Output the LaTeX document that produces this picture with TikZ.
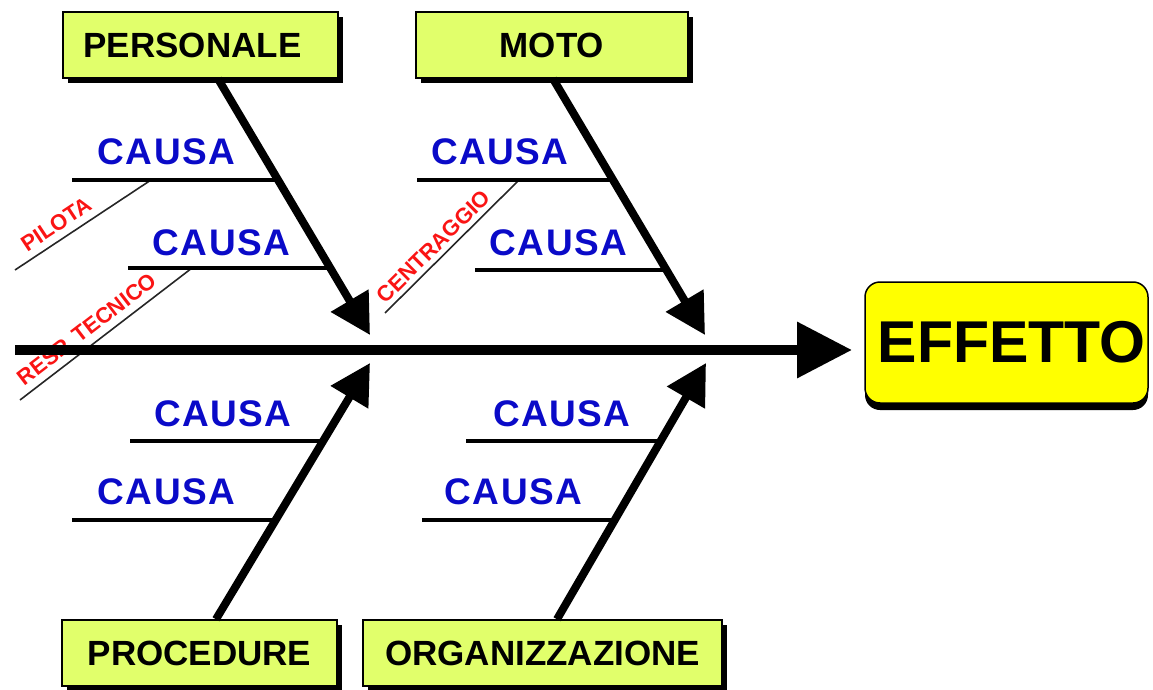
\documentclass[tikz,border=0pt]{standalone}
\usepackage{fontspec}
\setmainfont{Liberation Sans}
\usetikzlibrary{arrows.meta,shadows,calc}
\definecolor{catgreen}{RGB}{225,255,107}
\definecolor{effyellow}{RGB}{255,255,0}
\definecolor{causeblue}{RGB}{10,10,200}
\definecolor{subred}{RGB}{250,20,20}
\begin{document}
\begin{tikzpicture}[x=1pt,y=-1pt,
  catbox/.style={draw=black, line width=1.5pt, fill=catgreen, minimum height=66pt, inner sep=0pt,
    font=\bfseries\fontsize{35}{35}\selectfont,
    drop shadow={shadow xshift=4.5pt, shadow yshift=-5pt, fill=black, opacity=1}},
  effbox/.style={draw=black, line width=1.5pt, fill=effyellow, rounded corners=15pt,
    minimum width=283pt, minimum height=121pt, inner sep=0pt,
    font=\bfseries\fontsize{59}{59}\selectfont,
    drop shadow={shadow xshift=0pt, shadow yshift=-7pt, fill=black, opacity=1}},
  causa/.style={text=causeblue, inner sep=0pt,
    font=\bfseries\fontsize{37}{37}\selectfont\addfontfeature{LetterSpace=4}},
  causeline/.style={draw=black, line width=4.5pt},
  diagline/.style={draw=black!85, line width=1.6pt},
  sublabel/.style={text=subred, sloped, above, inner sep=2.5pt,
    font=\bfseries\fontsize{22}{22}\selectfont},
  bone/.style={draw=black, line width=8pt, -{Triangle[length=40pt,width=42pt]}},
  spine/.style={draw=black, line width=10pt, -{Triangle[length=55pt,width=54pt]}}
]
\useasboundingbox (0,0) rectangle (1153,690);

% category boxes
\node[catbox, minimum width=275pt] (personale) at (200.5,45) {PERSONALE\hspace*{16pt}};
\node[catbox, minimum width=272pt] (moto) at (552,45) {MOTO};
\node[catbox, minimum width=275pt] (procedure) at (199.5,653) {\raisebox{-3pt}{PROCEDURE}};
\node[catbox, minimum width=359pt] (organizzazione) at (542.5,653) {\raisebox{-3pt}{ORGANIZZAZIONE}};
\node[effbox] (effetto) at (1006.5,342.5) {\hspace*{10pt}EFFETTO};

% bone end points
\coordinate (b1s) at ([xshift=17.5pt]personale.south);
\coordinate (b1t) at (370,335);
\coordinate (b2s) at ([xshift=1pt]moto.south);
\coordinate (b2t) at (705,335);
\coordinate (b3s) at ([xshift=16.5pt]procedure.north);
\coordinate (b3t) at (370,363);
\coordinate (b4s) at ([xshift=14.5pt]organizzazione.north);
\coordinate (b4t) at (706,363);

% points on bones
\coordinate (k1) at ($(b1s)!0.397!(b1t)$);
\coordinate (k2) at ($(b1s)!0.739!(b1t)$);
\coordinate (k3) at ($(b2s)!0.397!(b2t)$);
\coordinate (k4) at ($(b2s)!0.747!(b2t)$);
\coordinate (k5) at ($(b3s)!0.6965!(b3t)$);
\coordinate (k6) at ($(b3s)!0.389!(b3t)$);
\coordinate (k7) at ($(b4s)!0.6965!(b4t)$);
\coordinate (k8) at ($(b4s)!0.389!(b4t)$);

% cause line free ends
\coordinate (c1) at (72,180);
\coordinate (c2) at (128,268);
\coordinate (c3) at (417,180);
\coordinate (c4) at (475,270);
\coordinate (c5) at (130,441);
\coordinate (c6) at (72,520);
\coordinate (c7) at (466,441);
\coordinate (c8) at (422,520);

% sub-cause diagonals
\coordinate (p1a) at (15,270);
\coordinate (p1b) at (151,180);
\coordinate (p2a) at (20,400);
\coordinate (p2b) at (192,268);
\coordinate (p3a) at (385,313);
\coordinate (p3b) at (519,180);
\draw[diagline] (p1a) -- (p1b) node[sublabel, pos=0.365, inner sep=7pt] (pilota) {PILOTA};
\draw[diagline] (p2a) -- (p2b) node[sublabel, pos=0.445, inner sep=7pt] (resp) {RESP. TECNICO};
\draw[diagline] (p3a) -- (p3b) node[sublabel, pos=0.43, inner sep=4.5pt] (centraggio) {CENTRAGGIO};

% cause lines
\draw[causeline] (c1) -- (c1 -| k1);
\draw[causeline] (c2) -- (c2 -| k2);
\draw[causeline] (c3) -- (c3 -| k3);
\draw[causeline] (c4) -- (c4 -| k4);
\draw[causeline] (c5) -- (c5 -| k5);
\draw[causeline] (c6) -- (c6 -| k6);
\draw[causeline] (c7) -- (c7 -| k7);
\draw[causeline] (c8) -- (c8 -| k8);

% cause texts
\node[causa] (t1) at (166.5,152) {CAUSA};
\node[causa] (t2) at (221.5,243) {CAUSA};
\node[causa] (t3) at (500,152) {CAUSA};
\node[causa] (t4) at (558.5,243) {CAUSA};
\node[causa] (t5) at (223,414) {CAUSA};
\node[causa] (t6) at (166.5,492) {CAUSA};
\node[causa] (t7) at (562,414) {CAUSA};
\node[causa] (t8) at (513.5,492) {CAUSA};

% bones
\draw[bone] (b1s) -- (b1t);
\draw[bone] (b2s) -- (b2t);
\draw[bone] (b3s) -- (b3t);
\draw[bone] (b4s) -- (b4t);

% spine
\coordinate (s0) at (15,350);
\coordinate (s1) at (852,350);
\draw[spine] (s0) -- (s1);
\end{tikzpicture}
\end{document}
